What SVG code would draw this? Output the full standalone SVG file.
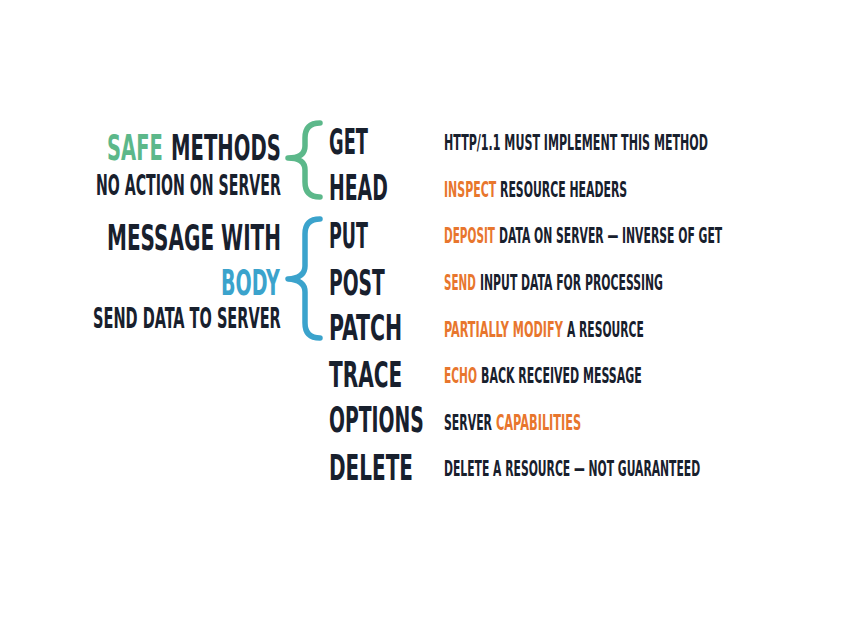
<svg xmlns="http://www.w3.org/2000/svg" width="849" height="623" viewBox="0 0 849 623">
<style>
text{font-family:"DejaVu Sans Condensed","DejaVu Sans","Liberation Sans",sans-serif;font-weight:bold;fill:#18202d}
.big{font-size:36px}
.mid{font-size:28px}
.sm{font-size:20.5px}
.or{fill:#e8762d}
.gr{fill:#5cb88a}
.bl{fill:#3ba3cc}
.brace{fill:none;stroke-width:5.5;stroke-linecap:round;stroke-linejoin:round}
</style>
<rect width="849" height="623" fill="#ffffff"/>
<g id="left-labels">
<g id="safe-methods">
<text class="big gr" transform="translate(107,160) scale(0.6,1)" textLength="93" lengthAdjust="spacingAndGlyphs">SAFE</text>
<text class="big" transform="translate(171,160) scale(0.6,1)" textLength="183" lengthAdjust="spacingAndGlyphs">METHODS</text>
<text class="mid" transform="translate(96,195) scale(0.6,1)" textLength="308" lengthAdjust="spacingAndGlyphs">NO ACTION ON SERVER</text>
</g>
<g id="message-body">
<text class="big" transform="translate(107,250) scale(0.6,1)" textLength="290" lengthAdjust="spacingAndGlyphs">MESSAGE WITH</text>
<text class="big bl" transform="translate(221,295) scale(0.6,1)" textLength="98" lengthAdjust="spacingAndGlyphs">BODY</text>
<text class="mid" transform="translate(93,328) scale(0.6,1)" textLength="313" lengthAdjust="spacingAndGlyphs">SEND DATA TO SERVER</text>
</g>
</g>
<g id="connectors">
<path class="brace" stroke="#5cb88a" d="M320,123 Q305,123 305,138 L305,146 Q305,158 288,158 Q305,158 305,170 L305,182 Q305,197 320,197"/>
<path class="brace" stroke="#3ba3cc" d="M320,219 Q305,219 305,234 L305,266 Q305,278 288,279 Q305,280 305,292 L305,323 Q305,338 320,338"/>
</g>
<g id="methods">
<g id="m-get"><text class="big" transform="translate(329,154) scale(0.6,1)" textLength="65" lengthAdjust="spacingAndGlyphs">GET</text></g>
<g id="m-head"><text class="big" transform="translate(329,200) scale(0.6,1)" textLength="98" lengthAdjust="spacingAndGlyphs">HEAD</text></g>
<g id="m-put"><text class="big" transform="translate(329,248) scale(0.6,1)" textLength="65" lengthAdjust="spacingAndGlyphs">PUT</text></g>
<g id="m-post"><text class="big" transform="translate(329,295) scale(0.6,1)" textLength="93" lengthAdjust="spacingAndGlyphs">POST</text></g>
<g id="m-patch"><text class="big" transform="translate(329,340) scale(0.6,1)" textLength="122" lengthAdjust="spacingAndGlyphs">PATCH</text></g>
<g id="m-trace"><text class="big" transform="translate(329,387) scale(0.6,1)" textLength="122" lengthAdjust="spacingAndGlyphs">TRACE</text></g>
<g id="m-options"><text class="big" transform="translate(329,432) scale(0.6,1)" textLength="158" lengthAdjust="spacingAndGlyphs">OPTIONS</text></g>
<g id="m-delete"><text class="big" transform="translate(329,480) scale(0.6,1)" textLength="140" lengthAdjust="spacingAndGlyphs">DELETE</text></g>
</g>
<g id="descriptions">
<g id="d-get"><text class="sm" transform="translate(444,150) scale(0.6,1)" textLength="440" lengthAdjust="spacingAndGlyphs">HTTP/1.1 MUST IMPLEMENT THIS METHOD</text></g>
<g id="d-head"><text class="sm or" transform="translate(444,197) scale(0.6,1)" textLength="87" lengthAdjust="spacingAndGlyphs">INSPECT</text><text class="sm" transform="translate(500,197) scale(0.6,1)" textLength="212" lengthAdjust="spacingAndGlyphs">RESOURCE HEADERS</text></g>
<g id="d-put"><text class="sm or" transform="translate(444,243) scale(0.6,1)" textLength="85" lengthAdjust="spacingAndGlyphs">DEPOSIT</text><text class="sm" transform="translate(499,243) scale(0.6,1)" textLength="372" lengthAdjust="spacingAndGlyphs">DATA ON SERVER — INVERSE OF GET</text></g>
<g id="d-post"><text class="sm or" transform="translate(444,290) scale(0.6,1)" textLength="53" lengthAdjust="spacingAndGlyphs">SEND</text><text class="sm" transform="translate(480,290) scale(0.6,1)" textLength="305" lengthAdjust="spacingAndGlyphs">INPUT DATA FOR PROCESSING</text></g>
<g id="d-patch"><text class="sm or" transform="translate(444,337) scale(0.6,1)" textLength="198" lengthAdjust="spacingAndGlyphs">PARTIALLY MODIFY</text><text class="sm" transform="translate(567,337) scale(0.6,1)" textLength="128" lengthAdjust="spacingAndGlyphs">A RESOURCE</text></g>
<g id="d-trace"><text class="sm or" transform="translate(444,383) scale(0.6,1)" textLength="55" lengthAdjust="spacingAndGlyphs">ECHO</text><text class="sm" transform="translate(481,383) scale(0.6,1)" textLength="268" lengthAdjust="spacingAndGlyphs">BACK RECEIVED MESSAGE</text></g>
<g id="d-options"><text class="sm" transform="translate(444,430) scale(0.6,1)" textLength="80" lengthAdjust="spacingAndGlyphs">SERVER</text><text class="sm or" transform="translate(496,430) scale(0.6,1)" textLength="142" lengthAdjust="spacingAndGlyphs">CAPABILITIES</text></g>
<g id="d-delete"><text class="sm" transform="translate(444,476) scale(0.6,1)" textLength="427" lengthAdjust="spacingAndGlyphs">DELETE A RESOURCE — NOT GUARANTEED</text></g>
</g>
</svg>
